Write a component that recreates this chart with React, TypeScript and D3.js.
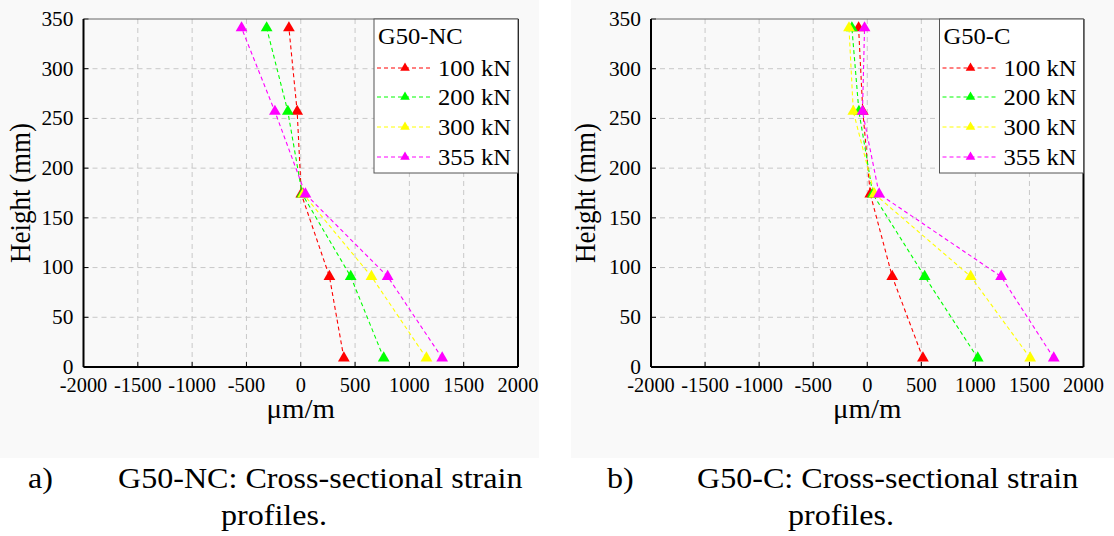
import React from "react";
import * as d3 from "d3";

// ---- data ----
const heights = [9, 91, 174, 257, 341];
const loads = ["100 kN", "200 kN", "300 kN", "355 kN"];
const colors = ["#ff0000", "#00ff00", "#ffff00", "#ff00ff"];

// G50-NC strain (µm/m) at each height (bottom -> top)
const nc100 = [397, 264, 5, -33, -109];
const nc200 = [764, 460, 13, -119, -314];
const nc300 = [1157, 651, 23, null, null];
const nc355 = [1302, 800, 43, -238, -545];

// G50-C strain (µm/m)
const c100 = [515, 231, 28, -41, -80];
const c200 = [1022, 531, 51, -77, -142];
const c300 = [1507, 957, 67, -129, -169];
const c355 = [1725, 1238, 110, -44, -25];

const xTicks = [-2000, -1500, -1000, -500, 0, 500, 1000, 1500, 2000];
const yTicks = [0, 50, 100, 150, 200, 250, 300, 350];

const SX = 1.07;
const FONT = "'Liberation Serif','Times New Roman',serif";

function T({ x, y, size, anchor = "start", rotate, children, dy, sx = SX }: any) {
  return (
    <text
      transform={`translate(${x},${y}) scale(${sx},1)${rotate ? ` rotate(${rotate})` : ""}`}
      fontSize={size}
      textAnchor={anchor}
      fontFamily={FONT}
      fill="#000"
      dy={dy}
    >
      {children}
    </text>
  );
}

function Chart({ x0, x1, series, title, yTitleX }: any) {
  const top = 19;
  const bottom = 367;
  const x = d3.scaleLinear().domain([-2000, 2000]).range([x0, x1]);
  const y = d3.scaleLinear().domain([0, 350]).range([bottom, top]);
  const line = d3
    .line<any>()
    .defined((d) => d[0] !== null)
    .x((d) => x(d[0]))
    .y((d) => y(d[1]));
  const tri = d3.symbol(d3.symbolTriangle, 60)()!;
  const triL = d3.symbol(d3.symbolTriangle, 40)()!;
  const lgX = x1 - 144;
  const lgRows = [68, 97, 127, 157];
  return (
    <g>
      {/* grid */}
      {xTicks.slice(1, -1).map((t) => (
        <line key={"gx" + t} x1={x(t)} x2={x(t)} y1={top} y2={bottom} stroke="#c8c8c8" strokeDasharray="5,4" />
      ))}
      {yTicks.slice(1, -1).map((t) => (
        <line key={"gy" + t} x1={x0} x2={x1} y1={y(t)} y2={y(t)} stroke="#c8c8c8" strokeDasharray="5,4" />
      ))}
      {/* inner ticks */}
      {xTicks.map((t) => (
        <line key={"tx" + t} x1={x(t)} x2={x(t)} y1={bottom} y2={bottom - 5} stroke="#000" />
      ))}
      {yTicks.map((t) => (
        <line key={"ty" + t} x1={x0} x2={x0 + 5} y1={y(t)} y2={y(t)} stroke="#000" />
      ))}
      {/* series */}
      {series.map((vals: any[], i: number) => {
        const pts = vals.map((v, j) => [v, heights[j]]);
        return (
          <g key={"s" + i}>
            <path d={line(pts) || ""} fill="none" stroke={colors[i]} strokeWidth={1.1} strokeDasharray="4,3" />
            {pts
              .filter((p) => p[0] !== null)
              .map((p, j) => (
                <path key={j} d={tri} transform={`translate(${x(p[0])},${y(p[1])})`} fill={colors[i]} />
              ))}
          </g>
        );
      })}
      {/* frame */}
      <line x1={x0} x2={x1} y1={top} y2={top} stroke="#666" strokeWidth={1} />
      <line x1={x1} x2={x1} y1={top} y2={bottom} stroke="#000" strokeWidth={2} />
      <line x1={x0} x2={x0} y1={top} y2={bottom} stroke="#000" strokeWidth={2} />
      <line x1={x0} x2={x1} y1={bottom} y2={bottom} stroke="#000" strokeWidth={2} />
      {/* tick labels */}
      {xTicks.map((t) => (
        <T key={"lx" + t} x={x(t)} y={392} size={20} anchor="middle" sx={1.02}>
          {t}
        </T>
      ))}
      {yTicks.map((t) => (
        <T key={"ly" + t} x={x0 - 10} y={y(t)} size={20} anchor="end" dy="0.34em">
          {t}
        </T>
      ))}
      {/* axis titles */}
      <T x={yTitleX} y={(top + bottom) / 2} size={27} anchor="middle" rotate={-90}>
        Height (mm)
      </T>
      <T x={x(0)} y={418} size={27} anchor="middle">
        μm/m
      </T>
      {/* legend */}
      <rect x={lgX} y={top} width={x1 - lgX} height={154} fill="#fff" stroke="#555" strokeWidth={1} />
      <T x={lgX + 4} y={44} size={23}>
        {title}
      </T>
      {loads.map((l, i) => (
        <g key={"lg" + i}>
          <line x1={lgX + 3} x2={lgX + 57} y1={lgRows[i]} y2={lgRows[i]} stroke={colors[i]} strokeDasharray="4,3" />
          <path d={triL} transform={`translate(${lgX + 31},${lgRows[i]})`} fill={colors[i]} />
          <T x={lgX + 64} y={lgRows[i]} size={23} dy="0.35em">
            {l}
          </T>
        </g>
      ))}
    </g>
  );
}

export default function App() {
  return (
    <svg
      width={1114}
      height={536}
      style={{ position: "absolute", left: 0, top: 0, background: "#fff" }}
    >
      <rect x={0} y={0} width={1114} height={536} fill="#fff" />
      <rect x={0} y={0} width={539} height={458} fill="#f9f9f9" />
      <rect x={571} y={0} width={543} height={458} fill="#f9f9f9" />
      <Chart x0={83.5} x1={518} series={[nc100, nc200, nc300, nc355]} title="G50-NC" yTitleX={30} />
      <Chart x0={651} x1={1083.5} series={[c100, c200, c300, c355]} title="G50-C" yTitleX={595} />
      {/* captions */}
      <T x={28} y={488} size={30}>a)</T>
      <T x={118} y={488} size={30}>G50-NC: Cross-sectional strain</T>
      <T x={274} y={525} size={30} anchor="middle">profiles.</T>
      <T x={607} y={488} size={30}>b)</T>
      <T x={697} y={488} size={30}>G50-C: Cross-sectional strain</T>
      <T x={841} y={525} size={30} anchor="middle">profiles.</T>
    </svg>
  );
}
